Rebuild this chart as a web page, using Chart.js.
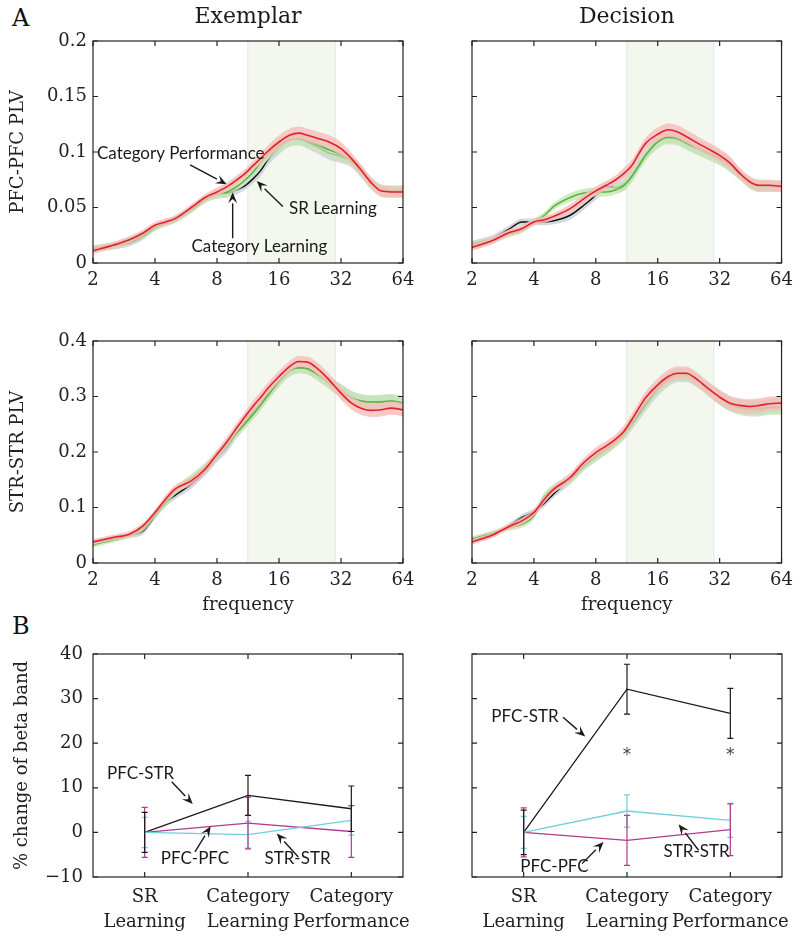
<!DOCTYPE html>
<html><head><meta charset="utf-8">
<script src="https://cdn.jsdelivr.net/npm/chart.js@4"></script>
<style>
body{margin:0;background:#fff;width:800px;height:939px;position:relative;overflow:hidden}
canvas{position:absolute}
.lbl{position:absolute;font-family:"DejaVu Serif";font-size:24px;color:#111;line-height:28px}
</style></head><body>
<div class="lbl" style="left:12px;top:4px">A</div>
<div class="lbl" style="left:12px;top:612px">B</div>
<canvas id="c1" width="440" height="300" style="left:0;top:0;width:440px;height:300px"></canvas>
<canvas id="c2" width="400" height="300" style="left:400px;top:0;width:400px;height:300px"></canvas>
<canvas id="c3" width="440" height="330" style="left:0;top:300px;width:440px;height:330px"></canvas>
<canvas id="c4" width="400" height="330" style="left:400px;top:300px;width:400px;height:330px"></canvas>
<canvas id="c5" width="440" height="329" style="left:0;top:610px;width:440px;height:329px"></canvas>
<canvas id="c6" width="400" height="329" style="left:400px;top:610px;width:400px;height:329px"></canvas>
<script>
// ---------------- data ----------------
const freqs = [2,2.5,3,3.5,4,4.5,5,6,7,8,9,10,11,12,13,14,16,18,20,22,25,28,32,36,40,45,50,56,64];
const xTicks = [2,4,8,16,32,64];
const betaBand = [11.3, 30];

const exPfcCP = [0.011,0.016,0.021,0.027,0.034,0.037,0.040,0.050,0.059,0.064,0.069,0.075,0.081,0.088,0.094,0.100,0.109,0.115,0.117,0.115,0.112,0.109,0.103,0.094,0.084,0.072,0.065,0.064,0.064];
const exPfcCL = [0.013,0.016,0.020,0.025,0.032,0.036,0.039,0.048,0.057,0.062,0.064,0.069,0.075,0.082,0.090,0.097,0.106,0.111,0.112,0.110,0.106,0.102,0.098,0.092,0.083,0.072,0.066,0.065,0.065];
const exPfcSR = [0.013,0.015,0.018,0.024,0.032,0.036,0.039,0.048,0.057,0.062,0.063,0.066,0.070,0.076,0.083,0.092,0.104,0.111,0.112,0.109,0.104,0.099,0.096,0.091,0.082,0.071,0.065,0.064,0.064];
const exPfcSem = [0.003,0.003,0.003,0.003,0.003,0.003,0.003,0.003,0.003,0.004,0.004,0.004,0.004,0.004,0.005,0.005,0.006,0.006,0.006,0.006,0.006,0.006,0.006,0.005,0.005,0.005,0.005,0.005,0.005];

const dePfcCP = [0.014,0.020,0.027,0.031,0.037,0.039,0.042,0.049,0.058,0.065,0.070,0.075,0.081,0.088,0.099,0.108,0.116,0.120,0.118,0.114,0.108,0.103,0.097,0.090,0.081,0.073,0.070,0.070,0.069];
const dePfcCL = [0.015,0.020,0.026,0.030,0.037,0.043,0.051,0.059,0.063,0.064,0.064,0.066,0.070,0.078,0.088,0.097,0.109,0.113,0.112,0.108,0.103,0.099,0.094,0.088,0.080,0.072,0.069,0.069,0.069];
const dePfcSR = [0.017,0.022,0.030,0.037,0.037,0.037,0.038,0.043,0.052,0.061,0.069,0.068,0.071,0.079,0.089,0.098,0.110,0.114,0.113,0.109,0.104,0.100,0.095,0.088,0.080,0.072,0.069,0.069,0.069];
const dePfcSem = [0.003,0.003,0.003,0.003,0.003,0.003,0.003,0.004,0.004,0.004,0.004,0.004,0.005,0.005,0.005,0.005,0.006,0.006,0.006,0.006,0.006,0.006,0.006,0.006,0.005,0.005,0.005,0.005,0.005];

const exStrCP = [0.038,0.046,0.052,0.067,0.091,0.115,0.133,0.148,0.169,0.196,0.220,0.244,0.265,0.283,0.298,0.313,0.336,0.354,0.363,0.362,0.348,0.330,0.306,0.288,0.279,0.275,0.276,0.279,0.276];
const exStrCL = [0.033,0.042,0.050,0.063,0.088,0.110,0.130,0.152,0.172,0.195,0.215,0.235,0.252,0.268,0.284,0.300,0.327,0.346,0.352,0.350,0.338,0.325,0.310,0.298,0.292,0.290,0.290,0.292,0.288];
const exStrSR = [0.036,0.044,0.050,0.058,0.085,0.108,0.122,0.142,0.165,0.190,0.210,0.235,0.255,0.272,0.288,0.302,0.328,0.346,0.352,0.350,0.338,0.325,0.310,0.298,0.292,0.290,0.291,0.292,0.288];
const exStrSem = [0.005,0.005,0.005,0.006,0.006,0.007,0.007,0.008,0.008,0.008,0.009,0.009,0.009,0.010,0.010,0.010,0.010,0.010,0.010,0.010,0.011,0.011,0.012,0.012,0.012,0.012,0.012,0.012,0.012];

const deStrCP = [0.038,0.050,0.065,0.076,0.091,0.115,0.133,0.154,0.181,0.199,0.211,0.223,0.238,0.259,0.280,0.298,0.321,0.336,0.342,0.342,0.330,0.315,0.299,0.288,0.284,0.282,0.284,0.287,0.288];
const deStrCL = [0.043,0.053,0.063,0.070,0.085,0.120,0.135,0.150,0.175,0.192,0.205,0.218,0.233,0.252,0.272,0.290,0.315,0.332,0.340,0.340,0.330,0.315,0.298,0.286,0.280,0.277,0.277,0.280,0.280];
const deStrSR = [0.040,0.050,0.066,0.082,0.092,0.108,0.125,0.150,0.175,0.192,0.205,0.218,0.233,0.250,0.268,0.285,0.312,0.330,0.338,0.338,0.328,0.314,0.298,0.286,0.282,0.280,0.280,0.283,0.285];
const deStrSem = [0.005,0.005,0.005,0.006,0.006,0.007,0.007,0.008,0.008,0.009,0.009,0.009,0.010,0.010,0.010,0.011,0.011,0.012,0.012,0.012,0.012,0.012,0.013,0.013,0.013,0.013,0.013,0.013,0.013];

const categories = [['SR','Learning'],['Category','Learning'],['Category','Performance']];
const exPfcStr = [0, 8.3, 5.3];   const exPfcStrErr = [4.5, 4.5, 5.1];
const exPfcPfc = [0, 2.1, 0.2];   const exPfcPfcErr = [5.6, 5.8, 5.8];
const exStrStr = [0, -0.5, 2.7];  const exStrStrErr = [3.4, 3.0, 3.3];
const dePfcStr = [0, 32.1, 26.7]; const dePfcStrErr = [5.0, 5.6, 5.6];
const dePfcPfc = [0, -1.8, 0.6];  const dePfcPfcErr = [5.5, 5.6, 5.8];
const deStrStr = [0, 4.8, 2.7];   const deStrStrErr = [3.6, 3.6, 3.8];

// ---------------- styling / plugins ----------------
Chart.defaults.font.family = 'DejaVu Serif';
Chart.defaults.font.size = 18;
Chart.defaults.color = '#222';

const SANS = '17px Lato';
const NOGRID = {display: false, drawTicks: false, tickLength: 0};

const framePlugin = {
  id: 'frame',
  beforeDatasetsDraw(chart, args, opts) {
    if (!opts || !opts.band) return;
    const ctx = chart.ctx, a = chart.chartArea, x = chart.scales.x;
    const x0 = x.getPixelForValue(opts.band[0]), x1 = x.getPixelForValue(opts.band[1]);
    ctx.save();
    ctx.fillStyle = '#f4f7ee';
    ctx.fillRect(x0, a.top, x1 - x0, a.bottom - a.top);
    ctx.strokeStyle = '#e3e7ea';
    ctx.lineWidth = 1;
    ctx.beginPath();
    ctx.moveTo(x0, a.top); ctx.lineTo(x0, a.bottom);
    ctx.moveTo(x1, a.top); ctx.lineTo(x1, a.bottom);
    ctx.stroke();
    ctx.restore();
  },
  afterDraw(chart) {
    const ctx = chart.ctx, a = chart.chartArea, x = chart.scales.x, y = chart.scales.y;
    const L = 5;
    ctx.save();
    ctx.strokeStyle = '#222';
    ctx.lineWidth = 1.2;
    ctx.strokeRect(a.left, a.top, a.right - a.left, a.bottom - a.top);
    ctx.beginPath();
    x.ticks.forEach(t => {
      const px = x.getPixelForValue(t.value);
      ctx.moveTo(px, a.bottom); ctx.lineTo(px, a.bottom - L);
      ctx.moveTo(px, a.top); ctx.lineTo(px, a.top + L);
    });
    y.ticks.forEach(t => {
      const py = y.getPixelForValue(t.value);
      ctx.moveTo(a.left, py); ctx.lineTo(a.left + L, py);
      ctx.moveTo(a.right, py); ctx.lineTo(a.right - L, py);
    });
    ctx.stroke();
    ctx.restore();
  }
};

const errPlugin = {
  id: 'errbars',
  afterDatasetsDraw(chart) {
    const ctx = chart.ctx, x = chart.scales.x, y = chart.scales.y;
    chart.data.datasets.forEach(ds => {
      if (!ds.errors) return;
      ctx.save();
      ctx.strokeStyle = ds.borderColor;
      ctx.lineWidth = 1.2;
      ctx.beginPath();
      ds.data.forEach((p, i) => {
        const e = ds.errors[i];
        const px = x.getPixelForValue(p.x);
        const pt = y.getPixelForValue(p.y + e), pb = y.getPixelForValue(p.y - e);
        ctx.moveTo(px, pt); ctx.lineTo(px, pb);
        ctx.moveTo(px - 3, pt); ctx.lineTo(px + 3, pt);
        ctx.moveTo(px - 3, pb); ctx.lineTo(px + 3, pb);
      });
      ctx.stroke();
      ctx.restore();
    });
  }
};

function arrow(ctx, x1, y1, x2, y2) {
  const ang = Math.atan2(y2 - y1, x2 - x1);
  const hl = 11, hw = 4.5;
  const bx = x2 - hl * Math.cos(ang), by = y2 - hl * Math.sin(ang);
  ctx.beginPath();
  ctx.moveTo(x1, y1); ctx.lineTo(bx, by);
  ctx.stroke();
  ctx.beginPath();
  ctx.moveTo(x2, y2);
  ctx.lineTo(bx + hw * Math.sin(ang), by - hw * Math.cos(ang));
  ctx.lineTo(x2 - 0.6 * hl * Math.cos(ang), y2 - 0.6 * hl * Math.sin(ang));
  ctx.lineTo(bx - hw * Math.sin(ang), by + hw * Math.cos(ang));
  ctx.closePath();
  ctx.fill();
}

const annotPlugin = {
  id: 'annot',
  afterDraw(chart, args, opts) {
    if (!opts) return;
    const ctx = chart.ctx, x = chart.scales.x, y = chart.scales.y;
    ctx.save();
    ctx.fillStyle = '#1a1a1a';
    ctx.strokeStyle = '#1a1a1a';
    ctx.lineWidth = 1.4;
    (opts.arrows || []).forEach(a => {
      arrow(ctx, x.getPixelForValue(a[0]), y.getPixelForValue(a[1]), x.getPixelForValue(a[2]), y.getPixelForValue(a[3]));
    });
    ctx.font = SANS;
    ctx.textBaseline = 'middle';
    (opts.texts || []).forEach(t => {
      ctx.textAlign = t.align || 'left';
      ctx.fillText(t.text, x.getPixelForValue(t.x), y.getPixelForValue(t.y));
    });
    ctx.fillStyle = '#444';
    ctx.font = '17px "DejaVu Sans"';
    ctx.textAlign = 'center';
    (opts.stars || []).forEach(s => {
      ctx.fillText('*', x.getPixelForValue(s[0]), y.getPixelForValue(s[1]));
    });
    ctx.restore();
  }
};

Chart.register(framePlugin, errPlugin, annotPlugin);

const fmt2 = v => String(+(+v).toFixed(2));
const fmtMinus = v => v < 0 ? '\u2212' + Math.abs(v) : String(v);

// drawing: lower "order" is drawn on top -> red line/band on top, black at the bottom
function topDatasets(sr, cl, cp, sem) {
  const series = [
    {v: cp, line: '#e4202a', band: 'rgba(245,190,188,0.82)', w: 1.6},
    {v: cl, line: '#5bb53a', band: 'rgba(196,230,180,0.82)', w: 1.5},
    {v: sr, line: '#111111', band: 'rgba(205,208,216,0.82)', w: 1.5}
  ];
  const ds = [];
  series.forEach((s, i) => {
    ds.push({data: freqs.map((f, k) => ({x: f, y: s.v[k]})), borderColor: s.line, borderWidth: s.w,
      pointRadius: 0, fill: false, cubicInterpolationMode: 'monotone', order: 2 * i});
    ds.push({data: freqs.map((f, k) => ({x: f, y: s.v[k] + sem[k]})), borderWidth: 0, borderColor: 'transparent',
      pointRadius: 0, fill: false, cubicInterpolationMode: 'monotone', order: 2 * i + 1});
    ds.push({data: freqs.map((f, k) => ({x: f, y: s.v[k] - sem[k]})), borderWidth: 0, borderColor: 'transparent',
      backgroundColor: s.band, pointRadius: 0, fill: '-1', cubicInterpolationMode: 'monotone', order: 2 * i + 1});
  });
  return ds;
}

function topChart(id, o) {
  return new Chart(document.getElementById(id), {
    type: 'line',
    data: {datasets: topDatasets(o.sr, o.cl, o.cp, o.sem)},
    options: {
      responsive: false, animation: false, events: [],
      layout: {padding: {left: 0, right: o.right, top: o.padTop, bottom: 0}},
      plugins: {
        legend: {display: false}, tooltip: {enabled: false},
        title: o.title ? {display: true, text: o.title, fullSize: false,
          font: {family: 'DejaVu Serif', size: 22, weight: 'normal'}, color: '#1a1a1a',
          padding: {top: 4, bottom: 10.6}} : {display: false},
        frame: {band: betaBand},
        annot: o.annot || {}
      },
      scales: {
        x: {type: 'logarithmic', min: 2, max: 64,
          afterBuildTicks: s => { s.ticks = xTicks.map(v => ({value: v})); },
          afterFit: s => { s.height = o.xh; },
          ticks: {autoSkip: false, maxRotation: 0, padding: 7, callback: v => String(v)},
          grid: NOGRID, border: {display: false},
          title: o.xtitle ? {display: true, text: o.xtitle, padding: {top: 0, bottom: 14}} : {display: false}},
        y: {min: 0, max: o.ymax,
          afterFit: s => { s.width = o.yw; },
          ticks: {stepSize: o.ystep, padding: 6, display: !!o.ytitle, callback: fmt2},
          grid: NOGRID, border: {display: false},
          title: o.ytitle ? {display: true, text: o.ytitle, padding: {top: 8, bottom: 0}} : {display: false}}
      }
    }
  });
}

function botChart(id, o) {
  const mk = (vals, errs, color, order) => ({data: vals.map((v, i) => ({x: i + 1, y: v})), errors: errs,
    borderColor: color, borderWidth: 1.3, pointRadius: 0, fill: false, tension: 0, order: order});
  return new Chart(document.getElementById(id), {
    type: 'line',
    data: {datasets: [
      mk(o.ss, o.ssE, '#6fd0dc', 0),
      mk(o.pp, o.ppE, '#b23a8e', 1),
      mk(o.ps, o.psE, '#1a1a1a', 2)
    ]},
    options: {
      responsive: false, animation: false, events: [],
      layout: {padding: {left: 0, right: o.right, top: 44, bottom: 0}},
      plugins: {legend: {display: false}, tooltip: {enabled: false}, frame: {}, annot: o.annot},
      scales: {
        x: {type: 'linear', min: 0.5, max: 3.5,
          afterBuildTicks: s => { s.ticks = categories.map((c, i) => ({value: i + 1})); },
          afterFit: s => { s.height = 62; },
          ticks: {autoSkip: false, maxRotation: 0, padding: 8, font: {lineHeight: 1.39},
            callback: v => categories[Math.round(v) - 1]},
          grid: NOGRID, border: {display: false}},
        y: {min: -10, max: 40,
          afterFit: s => { s.width = o.yw; },
          ticks: {stepSize: 10, padding: 10, display: !!o.ytitle, callback: fmtMinus},
          grid: NOGRID, border: {display: false},
          title: o.ytitle ? {display: true, text: o.ytitle, padding: {top: 12, bottom: 0}} : {display: false}}
      }
    }
  });
}

topChart('c1', {sr: exPfcSR, cl: exPfcCL, cp: exPfcCP, sem: exPfcSem, title: 'Exemplar', padTop: 0, right: 37,
  yw: 93, xh: 37, ymax: 0.2, ystep: 0.05, ytitle: 'PFC-PFC PLV',
  annot: {
    texts: [
      {text: 'Category Performance', x: 2.09, y: 0.0988},
      {text: 'Category Learning', x: 12.86, y: 0.015, align: 'center'},
      {text: 'SR Learning', x: 17.9, y: 0.0493}
    ],
    arrows: [[5.92, 0.0883, 8.91, 0.0709], [9.53, 0.0223, 9.53, 0.0637], [16.7, 0.0508, 12.47, 0.0739]]
  }});
topChart('c2', {sr: dePfcSR, cl: dePfcCL, cp: dePfcCP, sem: dePfcSem, title: 'Decision', padTop: 0, right: 18,
  yw: 72, xh: 37, ymax: 0.2, ystep: 0.05});
topChart('c3', {sr: exStrSR, cl: exStrCL, cp: exStrCP, sem: exStrSem, padTop: 41, right: 37,
  yw: 93, xh: 67, ymax: 0.4, ystep: 0.1, ytitle: 'STR-STR PLV', xtitle: 'frequency'});
topChart('c4', {sr: deStrSR, cl: deStrCL, cp: deStrCP, sem: deStrSem, padTop: 41, right: 18,
  yw: 72, xh: 67, ymax: 0.4, ystep: 0.1, xtitle: 'frequency'});

botChart('c5', {ps: exPfcStr, psE: exPfcStrErr, pp: exPfcPfc, ppE: exPfcPfcErr, ss: exStrStr, ssE: exStrStrErr,
  right: 37, yw: 93, ytitle: '% change of beta band',
  annot: {
    texts: [
      {text: 'PFC-STR', x: 0.635, y: 13.25},
      {text: 'PFC-PFC', x: 1.487, y: -5.86, align: 'center'},
      {text: 'STR-STR', x: 2.479, y: -5.86, align: 'center'}
    ],
    arrows: [[1.262, 11.36, 1.465, 6.34], [1.487, -4.38, 1.639, 1.39], [2.487, -5.5, 2.278, -0.24]]
  }});
botChart('c6', {ps: dePfcStr, psE: dePfcStrErr, pp: dePfcPfc, ppE: dePfcPfcErr, ss: deStrStr, ssE: deStrStrErr,
  right: 18, yw: 72,
  annot: {
    texts: [
      {text: 'PFC-STR', x: 0.687, y: 25.97},
      {text: 'PFC-PFC', x: 0.967, y: -7.75},
      {text: 'STR-STR', x: 2.354, y: -4.38}
    ],
    arrows: [[1.381, 25.84, 1.596, 21.48], [1.565, -7.0, 1.774, -2.14], [2.693, -4.0, 2.499, 1.85]],
    stars: [[2, 17.2], [3, 17.2]]
  }});
</script>
</body></html>
